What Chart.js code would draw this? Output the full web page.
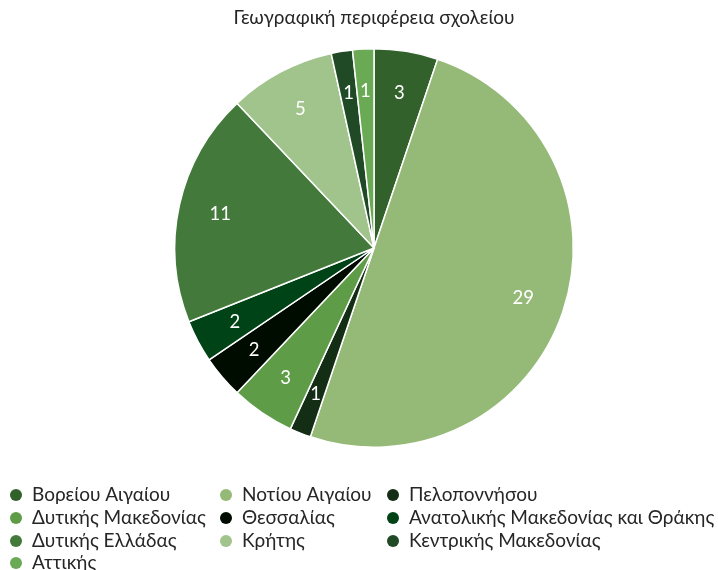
<!DOCTYPE html>
<html>
<head>
<meta charset="utf-8">
<script src="https://cdn.jsdelivr.net/npm/chart.js@4.4.1/dist/chart.umd.min.js"></script>
<style>
  html, body { margin: 0; padding: 0; background: #fff; }
  #wrap { width: 718px; height: 570px; position: relative; }
</style>
</head>
<body>
<div id="wrap"><canvas id="chart" width="718" height="570"></canvas></div>
<script>
const chartTitle = 'Γεωγραφική περιφέρεια σχολείου'
const regions = [
  'Βορείου Αιγαίου', 'Νοτίου Αιγαίου', 'Πελοποννήσου',
  'Δυτικής Μακεδονίας', 'Θεσσαλίας', 'Ανατολικής Μακεδονίας και Θράκης',
  'Δυτικής Ελλάδας', 'Κρήτης', 'Κεντρικής Μακεδονίας', 'Αττικής'
]
const schools = [3, 29, 1, 3, 2, 2, 11, 5, 1, 1]
const sliceColors = [
  '#33612b', '#95b977', '#142d15', '#5e9c48', '#000c00',
  '#004317', '#437a3b', '#a0c48b', '#1f4a25', '#6aaa55'
]

const fontName = 'Lato, "Open Sans", sans-serif'

// title, slice values and the 3-column legend are drawn here
const extras = {
  id: 'extras',
  afterDatasetsDraw(chart) {
    const ctx = chart.ctx
    const meta = chart.getDatasetMeta(0)
    ctx.save()
    ctx.fillStyle = '#fff'
    ctx.font = '18.5px ' + fontName
    ctx.textAlign = 'center'
    ctx.textBaseline = 'middle'
    meta.data.forEach((arc, i) => {
      const p = arc.getProps(['x', 'y', 'startAngle', 'endAngle', 'outerRadius'], true)
      const mid = (p.startAngle + p.endAngle) / 2
      const r = p.outerRadius * 0.79
      ctx.fillText(String(schools[i]), p.x + Math.cos(mid) * r, p.y + Math.sin(mid) * r)
    })

    ctx.fillStyle = '#262626'
    ctx.font = '19px ' + fontName
    ctx.fillText(chartTitle, 374, 18)

    // legend
    const colX = [16, 226, 393]
    const rowY = [495, 518, 541, 563]
    ctx.font = '19px ' + fontName
    ctx.textAlign = 'left'
    regions.forEach((name, i) => {
      const x = colX[i % 3]
      const y = rowY[Math.floor(i / 3)]
      ctx.fillStyle = sliceColors[i]
      ctx.beginPath()
      ctx.arc(x, y, 6, 0, Math.PI * 2)
      ctx.fill()
      ctx.fillStyle = '#262626'
      ctx.fillText(name, x + 16, y)
    })
    ctx.restore()
  }
}

new Chart(document.getElementById('chart'), {
  type: 'pie',
  data: {
    labels: regions,
    datasets: [{
      data: schools,
      backgroundColor: sliceColors,
      borderColor: '#fff',
      borderWidth: 1.5
    }]
  },
  options: {
    responsive: false,
    animation: false,
    layout: { padding: { top: 48, bottom: 122, left: 30, right: 0 } },
    plugins: {
      legend: { display: false },
      title: { display: false },
      tooltip: { enabled: false }
    }
  },
  plugins: [extras]
})
</script>
</body>
</html>
